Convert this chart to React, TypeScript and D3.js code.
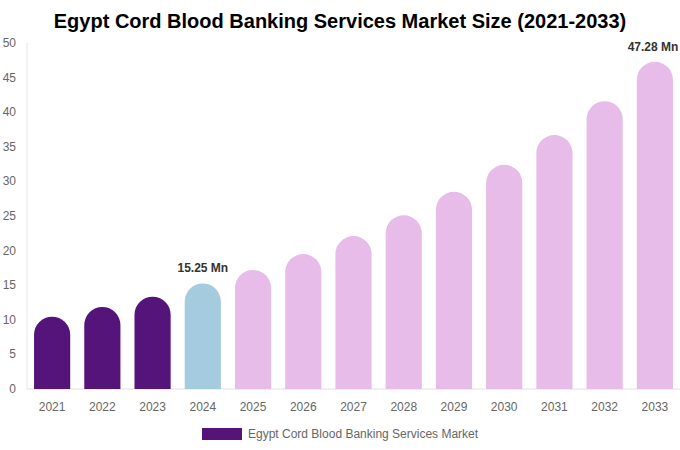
import React from "react";
import * as d3 from "d3";

const years = ["2021","2022","2023","2024","2025","2026","2027","2028","2029","2030","2031","2032","2033"];
const values = [10.45, 11.85, 13.35, 15.25, 17.2, 19.5, 22.1, 25.1, 28.5, 32.4, 36.7, 41.6, 47.28];
const barColors = ["#54147A","#54147A","#54147A","#A5CBDF","#E7BCE9","#E7BCE9","#E7BCE9","#E7BCE9","#E7BCE9","#E7BCE9","#E7BCE9","#E7BCE9","#E7BCE9"];
const labels: Record<string, string> = { "2024": "15.25 Mn", "2033": "47.28 Mn" };
const yTicks = [0, 5, 10, 15, 20, 25, 30, 35, 40, 45, 50];
const title = "Egypt Cord Blood Banking Services Market Size (2021-2033)";
const legendLabel = "Egypt Cord Blood Banking Services Market";

export default function App() {
  const W = 680, H = 450;
  const left = 27, right = 680, top = 43, bottom = 389;
  const x = d3.scaleBand<string>().domain(years).range([left, right]).paddingInner(0.28).paddingOuter(0.14);
  const y = d3.scaleLinear().domain([0, 50]).range([bottom, top]);
  const bw = x.bandwidth();
  const r = bw / 2;
  const font = "'Liberation Sans', Arial, sans-serif";

  const barPath = (xs: number, yt: number) => {
    const h = bottom - yt;
    const rr = Math.min(r, h);
    return `M${xs},${bottom}V${yt + rr}A${rr},${rr} 0 0 1 ${xs + bw},${yt + rr}V${bottom}Z`;
  };

  return (
    <svg width={W} height={H} style={{ position: "absolute", left: 0, top: 0, fontFamily: font }}>
      <rect width={W} height={H} fill="#fff" />
      <text x={340} y={28} textAnchor="middle" fontSize={20} fontWeight="bold" fill="#000">{title}</text>
      <line x1={left} x2={left} y1={top} y2={bottom} stroke="#e6e6e6" />
      <line x1={left} x2={right} y1={bottom} y2={bottom} stroke="#e0e0e0" />
      {yTicks.map(t => (
        <text key={t} x={16} y={y(t) + 4} textAnchor="end" fontSize={12} fill="#666">{t}</text>
      ))}
      {years.map((yr, i) => {
        const xs = x(yr)!;
        return (
          <g key={yr}>
            <path d={barPath(xs, y(values[i]))} fill={barColors[i]} />
            <text x={xs + bw / 2} y={411} textAnchor="middle" fontSize={12} fill="#666">{yr}</text>
            {labels[yr] && (
              <text x={Math.min(xs + bw / 2, 653)} y={y(values[i]) - 11} textAnchor="middle" fontSize={12} fontWeight="bold" fill="#333">{labels[yr]}</text>
            )}
          </g>
        );
      })}
      <rect x={202} y={428} width={40} height={12} fill="#54147A" />
      <text x={248} y={437.5} fontSize={12} fill="#666">{legendLabel}</text>
    </svg>
  );
}
